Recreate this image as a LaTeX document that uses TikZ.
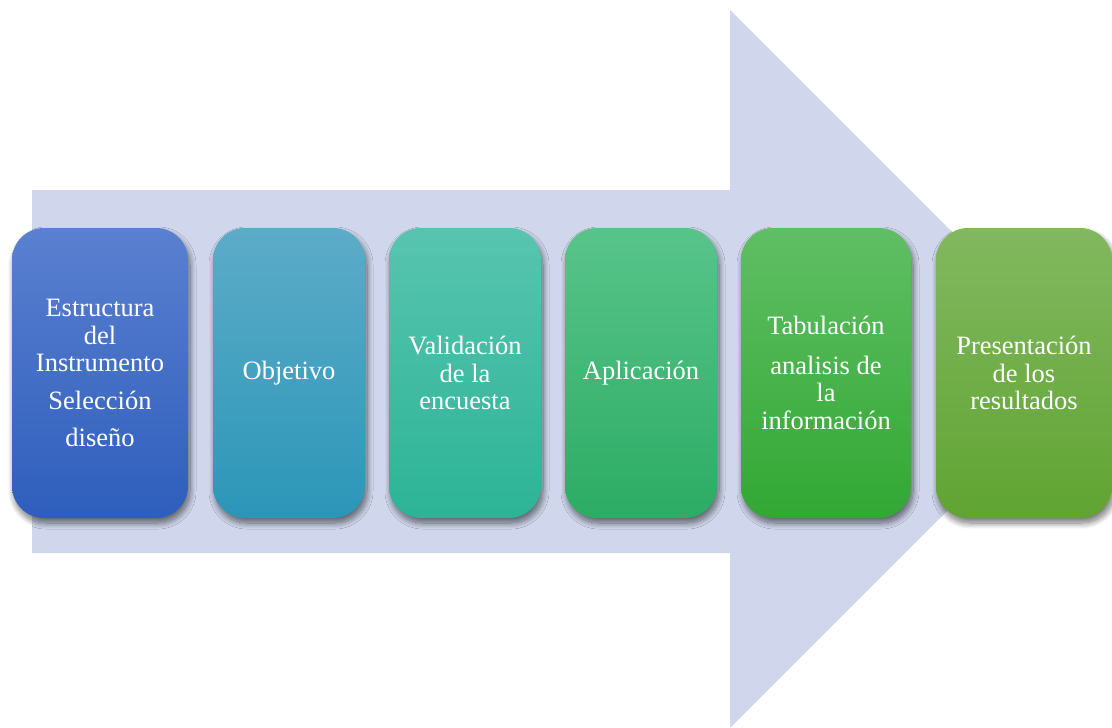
\documentclass[tikz,border=0pt]{standalone}
\usepackage{fontspec}
\setmainfont{Liberation Serif}
\usetikzlibrary{shadows.blur}
\definecolor{flecha}{RGB}{208,214,236}
\definecolor{azulA}{RGB}{90,128,208}
\definecolor{azulB}{RGB}{46,94,188}
\definecolor{celesteA}{RGB}{92,172,200}
\definecolor{celesteB}{RGB}{44,150,184}
\definecolor{turquesaA}{RGB}{88,196,176}
\definecolor{turquesaB}{RGB}{44,180,150}
\definecolor{verdeA}{RGB}{88,196,138}
\definecolor{verdeB}{RGB}{44,172,100}
\definecolor{pastoA}{RGB}{96,190,100}
\definecolor{pastoB}{RGB}{50,168,52}
\definecolor{olivoA}{RGB}{130,184,96}
\definecolor{olivoB}{RGB}{96,164,50}
\tikzset{paso/.style={rounded corners=32pt,minimum height=290pt,inner sep=0pt,align=center,text=white,
  font=\fontsize{26.5}{27.5}\selectfont,
  blur shadow={shadow xshift=2pt,shadow yshift=-5pt,shadow blur radius=6pt,shadow blur steps=12,shadow opacity=55}}}
\begin{document}
\begin{tikzpicture}[x=1pt,y=-1pt]
\useasboundingbox (0,0) rectangle (1112,728);
\pgfmathsetmacro{\kymid}{373}
% flecha de fondo
\fill[flecha](32,190)--(730,190)--(730,10)--(1089,369)--(730,728)--(730,553)--(32,553)--cycle;
% pasos
\foreach \kc/\kw/\ktop/\kbot/\kn/\klb in {100/176/azulA/azulB/estructura/{Estructura\\del\\Instrumento\\[10pt]Selección\\[10pt]diseño},
  289/152/celesteA/celesteB/objetivo/{Objetivo},
  465/152/turquesaA/turquesaB/validacion/{Validación\\de la\\encuesta},
  641/152/verdeA/verdeB/aplicacion/{Aplicación},
  826/170/pastoA/pastoB/tabulacion/{Tabulación\\[12pt]analisis de\\la\\información},
  1024/176/olivoA/olivoB/presentacion/{Presentación\\de los\\resultados}}{
\node[paso,minimum width=\kw pt,top color=\ktop,bottom color=\kbot](\kn) at (\kc,\kymid){\klb};}
\end{tikzpicture}
\end{document}
